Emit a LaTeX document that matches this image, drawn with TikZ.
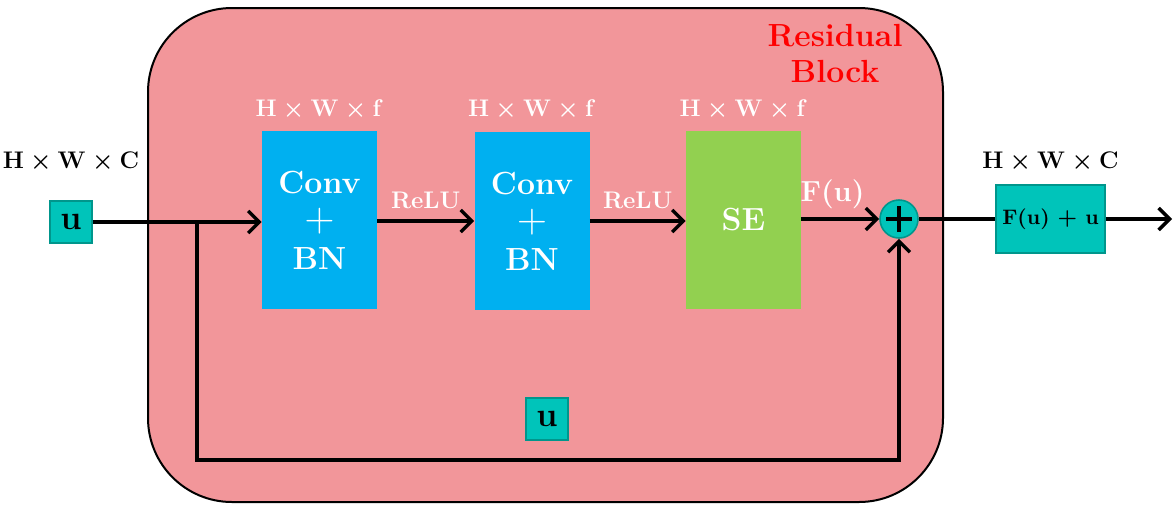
\documentclass[tikz,border=0pt]{standalone}
\usetikzlibrary{arrows.meta}
\definecolor{blockpink}{RGB}{242,150,154}
\definecolor{convblue}{RGB}{0,176,240}
\definecolor{segreen}{RGB}{146,208,80}
\definecolor{tealfill}{RGB}{0,196,186}
\definecolor{tealedge}{RGB}{0,150,140}
\begin{document}
\begin{tikzpicture}[x=0.5pt,y=-0.5pt,
  conn/.style={line width=1.7pt,-{Straight Barb[length=5.5pt,width=11pt,line width=1.7pt]}},
  wire/.style={line width=1.7pt},
  layerbox/.style={inner sep=0pt,minimum width=57.5pt,minimum height=89pt,align=center,
    text=white,font=\fontsize{16}{19}\selectfont\bfseries},
  tensor/.style={draw=tealedge,line width=0.8pt,fill=tealfill,inner sep=0pt},
  dimlabel/.style={font=\fontsize{12}{14}\selectfont\boldmath},
  wlabel/.style={text=white,font=\fontsize{12}{14}\selectfont\bfseries\boldmath}]
\useasboundingbox (0,0) rectangle (1176,504);

% residual block background
\node[draw=black,line width=1pt,fill=blockpink,rounded corners=42pt,
  minimum width=397.5pt,minimum height=247pt,inner sep=0pt] (block) at (545.5,255) {};
\node[text=red,align=center,font=\fontsize{16}{18}\selectfont\bfseries] (title) at (835,53) {Residual\\Block};

% layers
\node[layerbox,fill=convblue] (c1) at (319.5,220) {Conv\\{\fontsize{20}{19}\selectfont$+$}\\BN};
\node[layerbox,fill=convblue] (c2) at (532,221) {Conv\\{\fontsize{20}{19}\selectfont$+$}\\BN};
\node[layerbox,fill=segreen] (se) at (743.5,220) {SE};
\node[wlabel] (d1) at (319.5,110) {$\mathbf{H}\times\mathbf{W}\times\mathbf{f}$};
\node[wlabel] (d2) at (532,110) {$\mathbf{H}\times\mathbf{W}\times\mathbf{f}$};
\node[wlabel] (d3) at (743.5,110) {$\mathbf{H}\times\mathbf{W}\times\mathbf{f}$};

% input and output tensors
\node[tensor,minimum size=21pt,font=\fontsize{17}{19}\selectfont\bfseries] (uin) at (71,222) {u};
\node[dimlabel] (din) at (71,162) {$\mathbf{H}\times\mathbf{W}\times\mathbf{C}$};
\node[tensor,minimum size=21pt,font=\fontsize{17}{19}\selectfont\bfseries] (uskip) at (547,419) {u};
\node[tensor,circle,minimum size=19pt,
  path picture={\draw[black,line width=2.2pt]
    ([xshift=-6.5pt]path picture bounding box.center) -- ([xshift=6.5pt]path picture bounding box.center)
    ([yshift=-6.5pt]path picture bounding box.center) -- ([yshift=6.5pt]path picture bounding box.center);}] (plus) at (899,219) {};
\node[tensor,minimum width=54.5pt,minimum height=34pt,font=\fontsize{10.5}{12}\selectfont\bfseries\boldmath] (out) at (1050.5,219) {F(u) $+$ u};
\node[dimlabel] (dout) at (1050.5,162) {$\mathbf{H}\times\mathbf{W}\times\mathbf{C}$};
\coordinate (end) at (1172,219);

% main path
\draw[conn] (uin.east) -- (uin.east -| c1.west);
\draw[conn] (c1.east |- c2.west) -- node[above=2pt,wlabel] (r1) {ReLU} (c2.west);
\draw[conn] (c2.east) -- node[above=2pt,wlabel] (r2) {ReLU} (c2.east -| se.west);
\draw[conn] (se.east |- plus.west) -- node[pos=0.4,above=1pt,wlabel,font=\fontsize{14.5}{16}\selectfont\bfseries] (fu) {F(u)} (plus.west);
\draw[wire] (plus.east) -- (out.west);
\draw[conn] (out.east) -- (end);

% skip connection
\coordinate (br) at (197,222);
\coordinate (bl) at (197,460);
\draw[conn] (br) -- (bl) -| (plus.south);
\end{tikzpicture}
\end{document}
